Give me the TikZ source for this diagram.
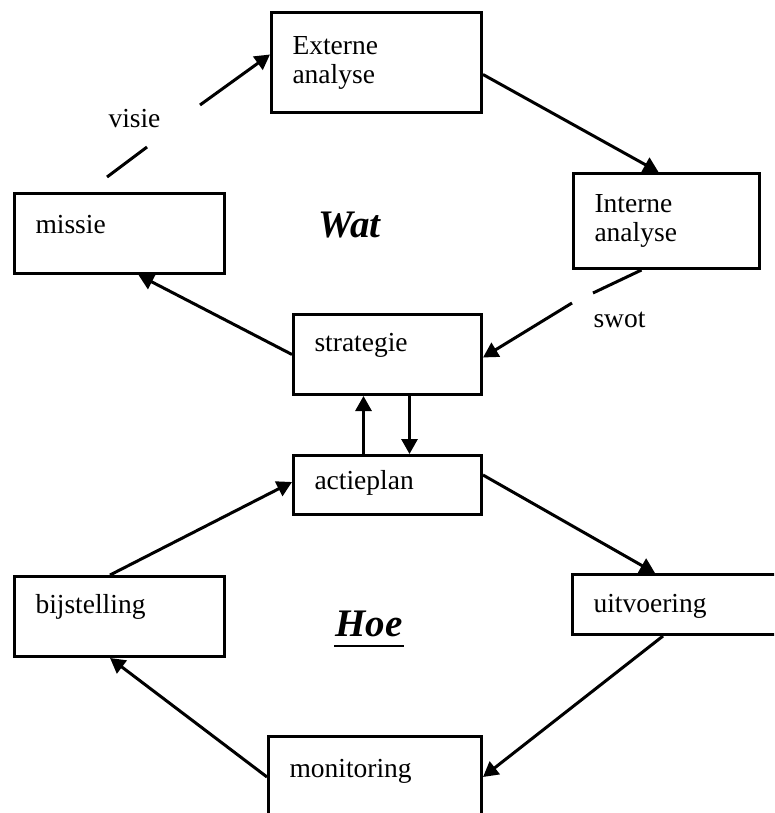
\documentclass[tikz,border=0pt]{standalone}
\usepackage{fontspec}
\setmainfont{Liberation Serif}
\usetikzlibrary{arrows.meta}

\begin{document}
\begin{tikzpicture}[x=1pt, y=-1pt, line width=3pt,
    box/.style={draw, anchor=north west, inner xsep=21pt, inner ysep=0pt,
      align=left, font=\fontsize{27.5}{29}\selectfont},
    lbl/.style={anchor=base west, inner sep=0pt, font=\fontsize{27.5}{29}\selectfont},
    big/.style={anchor=base west, inner sep=0pt, font=\fontsize{39}{42}\selectfont\bfseries\itshape},
    pijl/.style={-{Triangle[length=15pt,width=16pt]}}]
  \useasboundingbox (0,0) rectangle (774,813);
  \clip (0,0) rectangle (774,813);

  % Wat: upper ring
  \node[box, minimum width=210pt, minimum height=100pt, text width=168pt] (externe) at (270,11) {Externe\\analyse};
  \node[box, minimum width=186pt, minimum height=95pt, text width=144pt] (interne) at (572,172) {Interne\\analyse};
  \node[box, minimum width=210pt, minimum height=80pt, text width=168pt, text height=20pt, text depth=20pt] (missie) at (13,192) {missie};
  \node[box, minimum width=188pt, minimum height=80pt, text width=146pt, text height=20pt, text depth=26pt] (strategie) at (292,313) {strategie};

  % Hoe: lower ring
  \node[box, minimum width=188pt, minimum height=59pt, text width=146pt, text height=20pt, text depth=11pt] (actieplan) at (292,454) {actieplan};
  \node[box, minimum width=210pt, minimum height=80pt, text width=168pt, text height=20pt, text depth=26pt] (bijstelling) at (13,575) {bijstelling};
  \node[box, minimum width=229pt, minimum height=60pt, text width=187pt, text height=20pt, text depth=4pt] (uitvoering) at (571,573) {uitvoering};
  \node[box, minimum width=213pt, minimum height=100pt, text width=171pt, text height=20pt, text depth=38pt] (monitoring) at (267,735) {monitoring};

  \node[big] (wat) at (317,237) {Wat};
  \node[big] (hoe) at (334,636) {Hoe};
  \draw[line width=2pt] ([yshift=-8pt]hoe.south west) -- ([yshift=-8pt]hoe.south east);

  \node[lbl] (visie) at (107,128) {visie};
  \node[lbl] (swot) at (592,327) {swot};

  % loose ends of the broken lines
  \coordinate (v1) at (107,177);
  \coordinate (v2) at (147,147);
  \coordinate (v3) at (200,105);
  \coordinate (s1) at (593,293);
  \coordinate (s2) at (572,303);

  \draw (v1) -- (v2);
  \draw[pijl] (v3) -- ([yshift=8pt]externe.west);
  \draw[pijl] ([yshift=-12pt]externe.east) -- ([xshift=-8pt]interne.north);
  \draw ([xshift=-25pt]interne.south) -- (s1);
  \draw[pijl] (s2) -- ([yshift=-3pt]strategie.east);
  \draw[pijl] (strategie.west) -- ([xshift=19pt]missie.south);
  \draw[pijl] ([xshift=-24pt]actieplan.north) -- ([xshift=-24pt]strategie.south);
  \draw[pijl] ([xshift=22pt]strategie.south) -- ([xshift=22pt]actieplan.north);
  \draw[pijl] ([yshift=10pt]actieplan.east) -- ([xshift=84pt]uitvoering.north west);
  \draw[pijl] ([xshift=92pt]uitvoering.south west) -- ([yshift=-42pt]monitoring.north east);
  \draw[pijl] ([yshift=-42pt]monitoring.north west) -- ([xshift=97pt]bijstelling.south west);
  \draw[pijl] ([xshift=97pt]bijstelling.north west) -- ([yshift=3pt]actieplan.west);
\end{tikzpicture}
\end{document}
